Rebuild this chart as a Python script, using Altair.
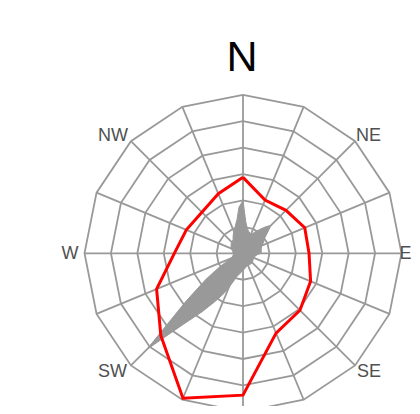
import altair as alt
import pandas as pd

# ---- data -------------------------------------------------------------
DIRS = ["N", "NNE", "NE", "ENE", "E", "ESE", "SE", "SSE",
        "S", "SSW", "SW", "WSW", "W", "WNW", "NW", "NNW"]
RED = [2.875, 2.18, 2.3, 2.53, 2.5, 2.77, 3.05, 3.27,
       5.37, 5.94, 4.4, 3.54, 2.6, 2.32, 2.2, 2.44]

GRAY_BEARING = list(range(0, 360, 5))
GRAY = [2.0, 1.2, 0.95, 0.85, 0.8, 0.8, 0.95, 1.1, 1.3, 1.5,
        1.2, 1.0, 0.92, 0.82, 0.75, 0.72, 0.7, 0.7, 0.68, 0.55,
        0.5, 0.46, 0.45, 0.45, 0.45, 0.46, 0.48, 0.5, 0.5, 0.5,
        0.5, 0.5, 0.5, 0.52, 0.55, 0.6, 0.65, 0.72, 0.8, 0.92,
        1.2, 1.65, 2.1, 2.7, 3.5, 5.15, 2.8, 1.7, 1.0, 0.6,
        0.45, 0.4, 0.38, 0.36, 0.36, 0.38, 0.4, 0.42, 0.45, 0.5,
        0.52, 0.55, 0.58, 0.6, 0.62, 0.65, 0.75, 0.85, 0.95, 1.1,
        1.3, 1.75]
assert len(GRAY) == len(GRAY_BEARING)

RINGS = [1, 2, 3, 4, 5, 6]
RMAX = 6
LABELS = ["N", "NE", "E", "SE", "SW", "W", "NW"]
LABEL_BEARING = [0, 45, 90, 135, 225, 270, 315]

# ---- layout ------------------------------------------------------------
W, H = 404, 398
CX, CY = 235.0, 245.3      # centre inside plot area (px)
R = 158.5                  # outer radius (px)
U = R / RMAX
XD = [-CX / U, (W - CX) / U]
YD = [-(H - CY) / U, CY / U]

# ---- tables ------------------------------------------------------------
step = 360 / len(DIRS)
grid_rows = []
for ring in RINGS:
    for k in range(len(DIRS) + 1):
        grid_rows.append({"g": f"r{ring}", "i": k, "b": k * step, "r": ring})
for k in range(len(DIRS)):
    grid_rows.append({"g": f"s{k}", "i": 0, "b": k * step, "r": 0})
    grid_rows.append({"g": f"s{k}", "i": 1, "b": k * step, "r": RMAX})
grid_df = pd.DataFrame(grid_rows)

red_df = pd.DataFrame({"i": list(range(len(DIRS) + 1)),
                       "b": [k * step for k in range(len(DIRS) + 1)],
                       "r": RED + RED[:1]})

gray_df = pd.DataFrame({"i": list(range(len(GRAY) + 1)),
                        "b": GRAY_BEARING + GRAY_BEARING[:1],
                        "r": GRAY + GRAY[:1]})

lab_df = pd.DataFrame({"t": LABELS, "b": LABEL_BEARING, "r": [RMAX] * len(LABELS)})


def polar(ch):
    return ch.transform_calculate(
        x="datum.r * sin(datum.b * PI / 180)",
        y="datum.r * cos(datum.b * PI / 180)",
    )


X = alt.X("x:Q", scale=alt.Scale(domain=XD, nice=False, zero=False), axis=None)
Y = alt.Y("y:Q", scale=alt.Scale(domain=YD, nice=False, zero=False), axis=None)

grid = polar(alt.Chart(grid_df)).mark_line(
    color="#999999", strokeWidth=1.8
).encode(x=X, y=Y, detail="g:N", order="i:Q")

gray = polar(alt.Chart(gray_df)).mark_line(
    color="#999999", fill="#999999", strokeWidth=1, strokeJoin="miter"
).encode(x=X, y=Y, order="i:Q")

red = polar(alt.Chart(red_df)).mark_line(
    color="#ff0000", strokeWidth=3
).encode(x=X, y=Y, order="i:Q")


def label(name, align, dx, dy, size=18, color="#505050"):
    return polar(alt.Chart(lab_df)).transform_filter(
        alt.datum.t == name
    ).mark_text(
        align=align, baseline="alphabetic", dx=dx, dy=dy,
        fontSize=size, font="Liberation Sans", color=color
    ).encode(x=X, y=Y, text="t:N")


labels = [
    label("N", "center", -1, -24, size=43, color="#000000"),
    label("NE", "left", 1, 0),
    label("E", "left", -2, 6),
    label("SE", "left", 2, 12),
    label("SW", "right", -4, 12),
    label("W", "right", -6, 6),
    label("NW", "right", -3, 0),
]

chart = alt.layer(grid, gray, red, *labels).properties(
    width=W, height=H, padding=0, autosize="none", background="white"
).configure_view(stroke=None)

chart.save("out.html", embed_options={"renderer": "svg", "actions": False})
